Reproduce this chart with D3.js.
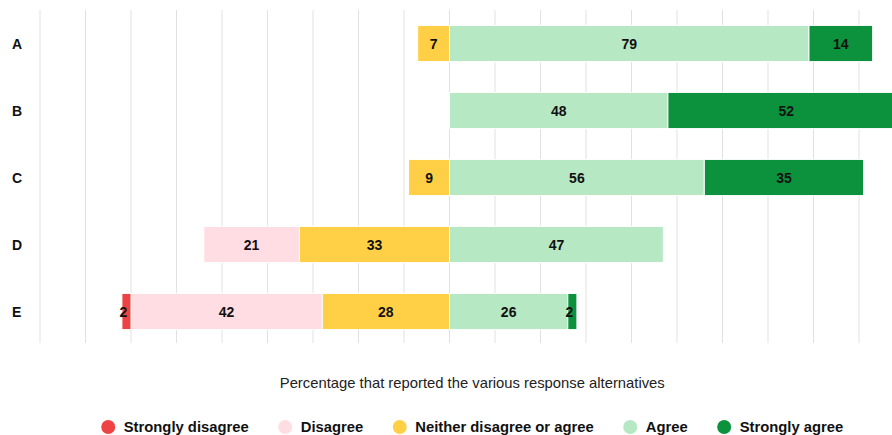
<!DOCTYPE html>
<html>
<head>
<meta charset="utf-8">
<script src="https://cdn.jsdelivr.net/npm/d3@7"></script>
<style>
  html, body { margin: 0; padding: 0; background: #fff; overflow: hidden; }
  svg { display: block; font-family: "Liberation Sans", Arial, sans-serif; }
</style>
</head>
<body>
<div id="chart"></div>
<script>
// Survey items and share of each response alternative (percent)
const categories = ["A", "B", "C", "D", "E"];
const responses = ["Strongly disagree", "Disagree", "Neither disagree or agree", "Agree", "Strongly agree"];
const stronglyDisagree = [0, 0, 0, 0, 2];
const disagree        = [0, 0, 0, 21, 42];
const neutral         = [7, 0, 9, 33, 28];
const agree           = [79, 48, 56, 47, 26];
const stronglyAgree   = [14, 52, 35, 0, 2];
const gridTicks = [-90, -80, -70, -60, -50, -40, -30, -20, -10, 0, 10, 20, 30, 40, 50, 60, 70, 80, 90, 100];
const colors = ["#ef4343", "#ffdde3", "#ffd045", "#b5e8c3", "#0c923c"];
const axisTitle = "Percentage that reported the various response alternatives";

const W = 892, H = 435;
const svg = d3.select("#chart").append("svg").attr("width", W).attr("height", H);

const x = d3.scaleLinear().domain([-90, 100]).range([40, 904.5]);
const y = d3.scaleBand().domain(categories).range([10, 345]).paddingInner(0.46).paddingOuter(0.23);

// Vertical grid
svg.append("g").selectAll("line").data(gridTicks).join("line")
  .attr("x1", d => x(d)).attr("x2", d => x(d))
  .attr("y1", 10).attr("y2", 343)
  .attr("stroke", "#e1e1e1").attr("stroke-width", 1);

// Build segments: negative side stacks leftwards from 0 (neutral nearest centre)
const series = [stronglyDisagree, disagree, neutral, agree, stronglyAgree];
const segments = [];
categories.forEach((c, i) => {
  let left = 0;
  for (let k = 2; k >= 0; k--) {
    const v = series[k][i];
    if (v > 0) { segments.push({ c, k, v, x0: left - v, x1: left }); }
    left -= v;
  }
  let right = 0;
  for (let k = 3; k <= 4; k++) {
    const v = series[k][i];
    if (v > 0) { segments.push({ c, k, v, x0: right, x1: right + v }); }
    right += v;
  }
});

const segG = svg.append("g");
segG.selectAll("rect").data(segments).join("rect")
  .attr("x", d => x(d.x0)).attr("width", d => x(d.x1) - x(d.x0))
  .attr("y", d => y(d.c)).attr("height", y.bandwidth())
  .attr("fill", d => colors[d.k])
  .attr("stroke", "#fff").attr("stroke-width", 1);

segG.selectAll("text").data(segments).join("text")
  .attr("x", d => {
    const w = x(d.x1) - x(d.x0);
    const mid = (x(d.x0) + Math.min(x(d.x1), W + 13)) / 2;
    return w < 12 ? mid - 3 : mid;
  })
  .attr("y", d => y(d.c) + y.bandwidth() / 2)
  .attr("dy", "0.36em")
  .attr("text-anchor", "middle")
  .attr("font-size", 14).attr("font-weight", "bold").attr("fill", "#111")
  .text(d => d.v);

// Category labels
svg.append("g").selectAll("text").data(categories).join("text")
  .attr("x", 12).attr("y", d => y(d) + y.bandwidth() / 2).attr("dy", "0.36em")
  .attr("font-size", 14).attr("font-weight", "bold").attr("fill", "#111")
  .text(d => d);

// Axis title
const cx = (x.range()[0] + x.range()[1]) / 2;
svg.append("text").attr("x", cx).attr("y", 388).attr("text-anchor", "middle")
  .attr("font-size", 14.8).attr("fill", "#222").text(axisTitle);

// Legend
const legend = svg.append("g");
const items = legend.selectAll("g").data(responses).join("g");
items.append("circle").attr("r", 7).attr("cy", 0).attr("cx", 7).attr("fill", (d, i) => colors[i]);
items.append("text").attr("x", 22.5).attr("dy", "0.36em")
  .attr("font-size", 14.8).attr("font-weight", "bold").attr("fill", "#111").text(d => d);
const widths = [];
items.each(function () { widths.push(this.getBBox().width); });
const gap = 29.5;
const total = d3.sum(widths) + gap * (widths.length - 1);
let off = cx - total / 2;
items.attr("transform", (d, i) => {
  const t = `translate(${off},427)`;
  off += widths[i] + gap;
  return t;
});
</script>
</body>
</html>
